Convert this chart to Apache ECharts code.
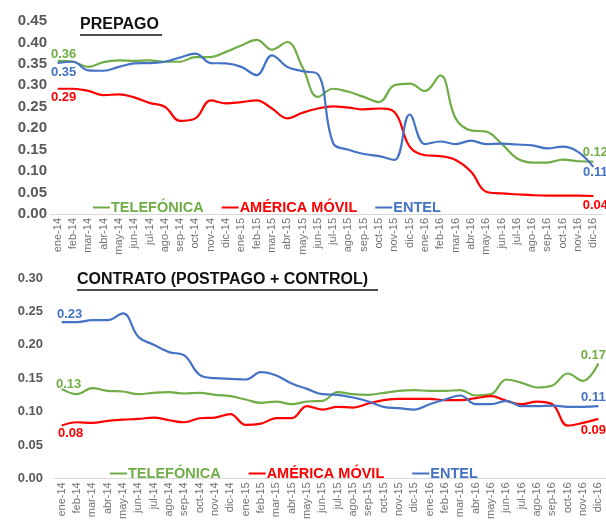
<!DOCTYPE html>
<html>
<head>
<meta charset="utf-8">
<script src="https://cdn.jsdelivr.net/npm/echarts@6/dist/echarts.min.js"></script>
<style>
  html, body { margin: 0; padding: 0; background: #fff; }
  #main { width: 606px; height: 522px; }
</style>
</head>
<body>
<div id="main"></div>
<script>
var months = ['ene-14','feb-14','mar-14','abr-14','may-14','jun-14','jul-14','ago-14','sep-14','oct-14','nov-14','dic-14',
  'ene-15','feb-15','mar-15','abr-15','may-15','jun-15','jul-15','ago-15','sep-15','oct-15','nov-15','dic-15',
  'ene-16','feb-16','mar-16','abr-16','may-16','jun-16','jul-16','ago-16','sep-16','oct-16','nov-16','dic-16'];

var prepagoTelefonica = [0.357,0.355,0.343,0.354,0.358,0.357,0.358,0.355,0.355,0.366,0.366,0.378,
  0.393,0.406,0.383,0.401,0.342,0.273,0.292,0.285,0.273,0.261,0.300,0.304,
  0.287,0.323,0.223,0.195,0.192,0.164,0.130,0.120,0.120,0.127,0.123,0.122];
var prepagoAmerica = [0.292,0.292,0.287,0.277,0.279,0.272,0.259,0.250,0.217,0.223,0.265,0.258,
  0.261,0.265,0.246,0.223,0.236,0.246,0.251,0.248,0.244,0.246,0.238,0.157,
  0.137,0.135,0.126,0.099,0.052,0.048,0.046,0.044,0.043,0.043,0.043,0.042];
var prepagoEntel = [0.352,0.355,0.335,0.334,0.343,0.351,0.352,0.355,0.365,0.374,0.352,0.351,
  0.343,0.324,0.370,0.343,0.333,0.326,0.165,0.150,0.140,0.135,0.126,0.232,
  0.163,0.169,0.163,0.171,0.163,0.164,0.162,0.160,0.153,0.157,0.145,0.110];

var contratoTelefonica = [0.134,0.126,0.135,0.131,0.130,0.126,0.128,0.129,0.127,0.128,0.125,0.123,
  0.118,0.113,0.115,0.111,0.115,0.116,0.129,0.126,0.125,0.128,0.131,0.132,
  0.131,0.131,0.132,0.124,0.126,0.148,0.143,0.136,0.139,0.157,0.146,0.172];
var contratoAmerica = [0.079,0.084,0.083,0.086,0.088,0.089,0.091,0.087,0.084,0.090,0.091,0.096,
  0.080,0.082,0.090,0.090,0.108,0.103,0.107,0.106,0.112,0.117,0.119,0.119,
  0.119,0.117,0.117,0.120,0.123,0.116,0.111,0.115,0.111,0.079,0.083,0.089];
var contratoEntel = [0.234,0.234,0.237,0.237,0.247,0.212,0.200,0.189,0.184,0.155,0.150,0.149,
  0.148,0.159,0.154,0.142,0.134,0.126,0.125,0.121,0.115,0.107,0.105,0.103,
  0.111,0.118,0.124,0.111,0.111,0.116,0.108,0.108,0.109,0.107,0.107,0.108];

var names = ['TELEFÓNICA', 'AMÉRICA MÓVIL', 'ENTEL'];
var colors = ['#70ad47', '#ff0000', '#4472c4'];
var font = 'Liberation Sans, Arial, sans-serif';

// first/last point labels, offsets relative to the point
function withEndLabels(values, color, startOff, endOff) {
  return values.map(function (v, i) {
    if (i !== 0 && i !== values.length - 1) return v;
    return {
      value: v,
      label: {
        show: true, position: 'inside',
        offset: i === 0 ? startOff : endOff,
        formatter: function (p) { return p.value.toFixed(2); },
        color: color, fontWeight: 'bold', fontSize: 13, fontFamily: font
      }
    };
  });
}

function line(name, idx, values, color, so, eo) {
  return {
    name: name, type: 'line', xAxisIndex: idx, yAxisIndex: idx,
    data: withEndLabels(values, color, so, eo),
    smooth: 0.4, symbol: 'circle', symbolSize: 0, showSymbol: true,
    lineStyle: { color: color, width: 2.2 }, itemStyle: { color: color },
    animation: false
  };
}

function legend(left, top, gap) {
  return {
    left: left, top: top, itemGap: gap, icon: 'rect', itemWidth: 17, itemHeight: 2,
    data: names.map(function (n, i) {
      return { name: n, textStyle: { color: colors[i] } };
    }),
    textStyle: { fontSize: 14.5, fontWeight: 'bold', fontFamily: font, padding: [0, 0, 0, -4] }
  };
}

function xAxis(idx) {
  return {
    type: 'category', gridIndex: idx, data: months,
    axisLine: { lineStyle: { color: '#d9d9d9' } }, axisTick: { show: false },
    axisLabel: { rotate: 90, interval: 0, margin: 4, fontSize: 11, color: '#737373', fontFamily: font }
  };
}

function yAxis(idx, max, size, margin) {
  return {
    type: 'value', gridIndex: idx, min: 0, max: max, interval: 0.05,
    splitLine: { show: false }, axisLine: { show: false }, axisTick: { show: false },
    axisLabel: { formatter: function (v) { return v.toFixed(2); }, fontSize: size, fontWeight: 'bold',
      color: '#595959', fontFamily: font, margin: margin }
  };
}

var chart = echarts.init(document.getElementById('main'));
chart.setOption({
  backgroundColor: '#fff',
  grid: [
    { left: 50, top: 21, width: 551, height: 193 },
    { left: 54, top: 278, width: 553, height: 204 }
  ],
  xAxis: [xAxis(0), xAxis(1)],
  yAxis: [yAxis(0, 0.45, 15, 3), yAxis(1, 0.30, 13, 11)],
  legend: [legend(88, 195, 18), legend(105, 461, 28)],
  graphic: [
    { type: 'text', left: 80, top: 17, style: { text: 'PREPAGO', fill: '#111', font: 'bold 16px ' + font } },
    { type: 'line', shape: { x1: 80, y1: 35, x2: 162, y2: 35 }, style: { stroke: '#111', lineWidth: 1.5 } },
    { type: 'text', left: 77, top: 272, style: { text: 'CONTRATO (POSTPAGO + CONTROL)', fill: '#111', font: 'bold 16px ' + font } },
    { type: 'line', shape: { x1: 77, y1: 290, x2: 378, y2: 290 }, style: { stroke: '#111', lineWidth: 1.5 } }
  ],
  series: [
    line(names[0], 0, prepagoTelefonica, colors[0], [6, -6], [2, -9]),
    line(names[1], 0, prepagoAmerica, colors[1], [6, 9], [2, 9]),
    line(names[2], 0, prepagoEntel, colors[2], [6, 9], [2, 6]),
    line(names[0], 1, contratoTelefonica, colors[0], [7, -4], [-5, -8]),
    line(names[1], 1, contratoAmerica, colors[1], [9, 8], [-5, 12]),
    line(names[2], 1, contratoEntel, colors[2], [8, -8], [-5, -9])
  ]
});
</script>
</body>
</html>
